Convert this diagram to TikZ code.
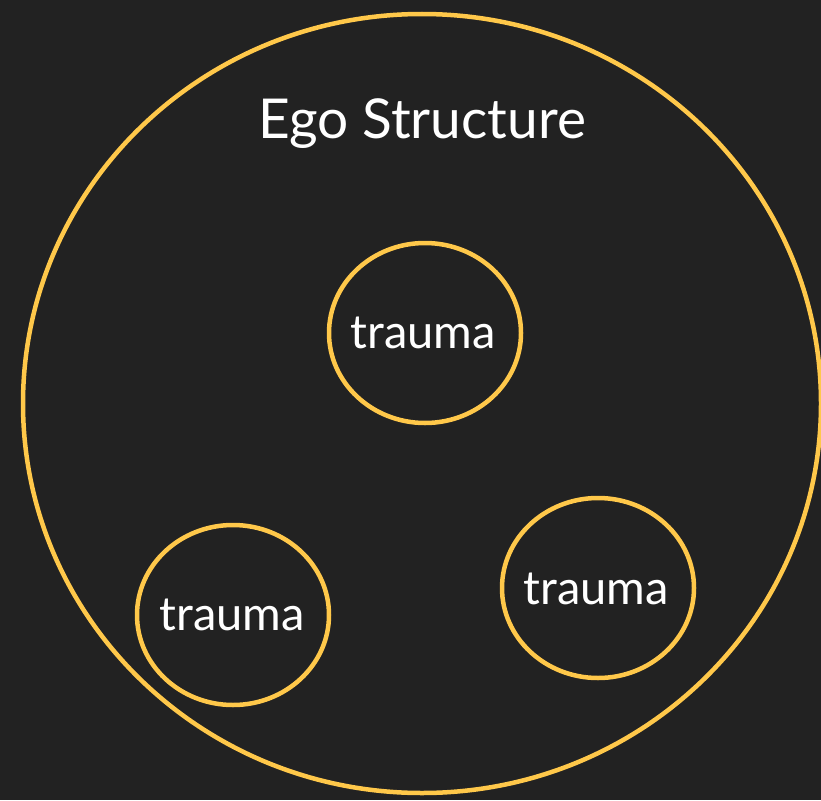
\documentclass[tikz,border=0pt]{standalone}
\usepackage{fontspec}
\setmainfont{Lato}
\definecolor{bg}{HTML}{222222}
\definecolor{ring}{HTML}{FFC84A}
\begin{document}
\begin{tikzpicture}[x=1pt,y=-1pt,
  ringline/.style={draw=ring,line width=4.5pt},
  lbl/.style={text=white,font=\fontsize{47}{52}\selectfont},
  titlelbl/.style={text=white,font=\fontsize{55}{60}\selectfont}]
\useasboundingbox (0,0) rectangle (821,800);
\fill[bg] (0,0) rectangle (821,800);
\draw[ringline] (422,403.5) ellipse [x radius=399, y radius=389.5];
\node[titlelbl] (title) at (422,124) {Ego Structure};
\draw[ringline] (425,333) ellipse [x radius=96, y radius=90];
\node[lbl] (t1) at (423,333) {trauma};
\draw[ringline] (233,615) ellipse [x radius=96, y radius=90];
\node[lbl] (t2) at (232,615) {trauma};
\draw[ringline] (598,588) ellipse [x radius=96, y radius=90];
\node[lbl] (t3) at (596,589) {trauma};
\end{tikzpicture}
\end{document}
